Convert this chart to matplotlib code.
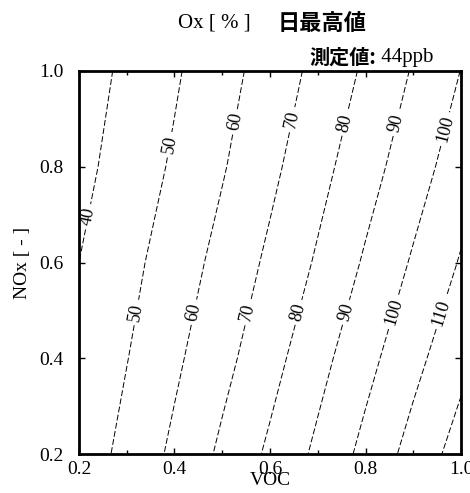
import numpy as np
import matplotlib
matplotlib.use('Agg')
import matplotlib.pyplot as plt

plt.rcParams['font.family'] = ['Liberation Serif', 'DejaVu Serif']

# grid (Ox daily maximum, %)
voc = [0.2, 0.3, 0.4, 0.5, 0.6, 0.7, 0.8, 0.9, 1.0]
nox = [0.2, 0.4, 0.6, 0.8, 1.0]
ox = [
    [44.1, 52.9, 62.0, 71.9, 81.8, 92.1, 102.8, 113.6, 124.3],   # NOx 0.2
    [41.3, 49.7, 58.2, 67.0, 76.5, 86.7, 96.9, 107.1, 117.2],    # NOx 0.4
    [40.0, 47.0, 54.8, 63.1, 71.9, 81.2, 91.2, 101.1, 110.8],    # NOx 0.6
    [37.2, 44.2, 51.3, 59.2, 67.7, 76.7, 86.0, 95.5, 105.2],     # NOx 0.8
    [35.2, 42.0, 48.8, 56.3, 64.3, 72.7, 81.5, 90.8, 100.2],     # NOx 1.0
]
levels = [40, 50, 60, 70, 80, 90, 100, 110, 120]

# where the contour labels sit
label_pos = [(0.232, 0.693),
             (0.395, 0.845), (0.531, 0.893), (0.648, 0.898), (0.757, 0.891),
             (0.862, 0.891), (0.973, 0.877),
             (0.324, 0.495), (0.447, 0.495), (0.554, 0.495), (0.663, 0.495),
             (0.763, 0.495), (0.862, 0.495), (0.960, 0.495)]

fig = plt.figure(figsize=(4.70, 4.93), dpi=100)
ax = fig.add_axes([0.168, 0.079, 0.813, 0.777])

cs = ax.contour(voc, nox, ox, levels=levels, colors='black', linewidths=0.7)
cs.set_linestyle((0, (6, 2.5)))
ax.clabel(cs, manual=label_pos, inline=True, fmt='%d', fontsize=13, inline_spacing=4)

ax.set_xlim(0.2, 1.0)
ax.set_ylim(0.2, 1.0)
ax.set_xticks([0.2, 0.4, 0.6, 0.8, 1.0])
ax.set_xticks([0.3, 0.5, 0.7, 0.9], minor=True)
ax.set_yticks([0.2, 0.4, 0.6, 0.8, 1.0])
ax.set_xticklabels(['0.2', '0.4', '0.6', '0.8', '1.0'])
ax.set_yticklabels(['0.2', '0.4', '0.6', '0.8', '1.0'])
ax.tick_params(which='both', direction='in', top=True, right=True, labelsize=14)
ax.tick_params(which='major', length=4, width=1)
ax.tick_params(which='minor', length=3, width=1)
ax.tick_params(axis='x', pad=5)
ax.tick_params(axis='y', pad=11)
for sp in ax.spines.values():
    sp.set_linewidth(2)

ax.set_xlabel('VOC', fontsize=14, labelpad=-4)
ax.set_ylabel('NOx [ - ]', fontsize=14, labelpad=6)

cjk = ['Noto Sans CJK JP', 'DejaVu Sans']
fig.text(0.533, 0.953, 'Ox [ % ]', ha='right', va='center', fontsize=15)
fig.text(0.590, 0.953, '日最高値', ha='left', va='center', fontsize=16,
         family=cjk, weight='bold')
fig.text(0.800, 0.884, '測定値:', ha='right', va='center', fontsize=14.5,
         family=cjk, weight='bold')
fig.text(0.800, 0.884, ' 44ppb', ha='left', va='center', fontsize=15)

fig.savefig('out.png', dpi=100)
